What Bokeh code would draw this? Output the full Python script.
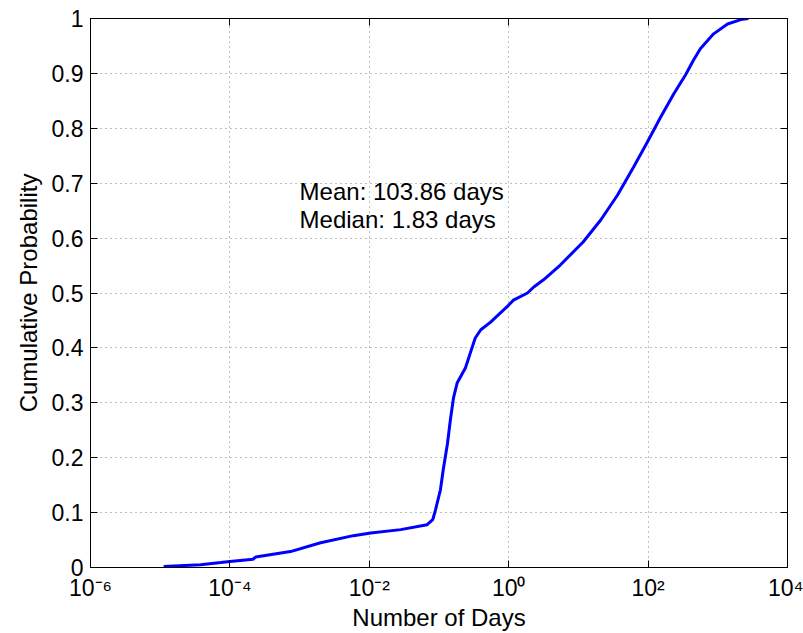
from bokeh.plotting import figure
from bokeh.models import FixedTicker, LinearAxis, LogAxis, Range1d
from bokeh.embed import file_html
from bokeh.resources import INLINE
from bokeh.core.properties import value

# ---- data ----
days = [1.12e-5, 3.8e-5, 7.4e-5, 1.0e-4, 2.14e-4, 2.34e-4, 7.4e-4, 2.0e-3, 5.9e-3,
        0.0105, 0.0282, 0.0676, 0.0813, 0.0891, 0.105, 0.115, 0.132, 0.146, 0.162, 0.182,
        0.24, 0.282, 0.331, 0.398, 0.55, 1.0, 1.17, 1.86, 2.29, 3.16, 5.5, 11.7,
        20.9, 36.3, 61.7, 97.7, 151, 234, 347, 447, 562, 871, 1380, 2140, 2750]
cum_prob = [0.002, 0.005, 0.009, 0.011, 0.015, 0.019, 0.029, 0.045, 0.058,
            0.063, 0.069, 0.078, 0.087, 0.105, 0.142, 0.178, 0.225, 0.27, 0.31, 0.336,
            0.364, 0.391, 0.418, 0.433, 0.447, 0.478, 0.487, 0.5, 0.511, 0.524, 0.551, 0.593,
            0.633, 0.678, 0.729, 0.775, 0.82, 0.863, 0.898, 0.924, 0.945, 0.972, 0.99, 0.998, 1.0]

x_ticks = [1e-6, 1e-4, 1e-2, 1.0, 1e2, 1e4]
x_tick_labels = ["10\u207b\u2076", "10\u207b\u2074", "10\u207b\u00b2", "10\u2070", "10\u00b2", "10\u2074"]
y_ticks = [0, 0.1, 0.2, 0.3, 0.4, 0.5, 0.6, 0.7, 0.8, 0.9, 1]
y_tick_labels = ["0", "0.1", "0.2", "0.3", "0.4", "0.5", "0.6", "0.7", "0.8", "0.9", "1"]

note_lines = ["Mean: 103.86 days", "Median: 1.83 days"]
note_x = [1e-3, 1e-3]
note_y = [0.684, 0.633]

FONT = "Liberation Sans"

p = figure(width=803, height=633, x_axis_type="log",
           x_range=Range1d(1e-6, 1e4), y_range=Range1d(0, 1),
           output_backend="svg", toolbar_location=None,
           min_border_left=90, min_border_right=16, min_border_top=18, min_border_bottom=65)
p.background_fill_color = "white"
p.border_fill_color = "white"
p.outline_line_color = "black"
p.outline_line_width = 1

# grid
p.xgrid.ticker = FixedTicker(ticks=x_ticks)
p.ygrid.ticker = FixedTicker(ticks=y_ticks)
for g in (p.xgrid, p.ygrid):
    g.grid_line_color = "black"
    g.grid_line_alpha = 0.5
    g.grid_line_dash = "1 4"
    g.grid_line_width = 1

def style_axis(ax, ticks, labels, show_labels=True):
    ax.ticker = FixedTicker(ticks=ticks)
    if show_labels:
        ax.major_label_overrides = {t: l for t, l in zip(ticks, labels)}
    else:
        ax.major_label_overrides = {t: "" for t in ticks}
    ax.major_tick_in = 7
    ax.major_tick_out = 0
    ax.minor_tick_line_color = None
    ax.axis_line_color = "black"
    ax.major_tick_line_color = "black"
    ax.major_label_text_font = FONT
    ax.major_label_text_font_size = "23px"
    ax.major_label_text_color = "black"
    ax.axis_label_text_font = FONT
    ax.axis_label_text_font_size = "24px"
    ax.axis_label_text_font_style = "normal"
    ax.axis_label_text_color = "black"

xa = p.xaxis[0]
style_axis(xa, x_ticks, x_tick_labels)
xa.axis_label = "Number of Days"
xa.major_label_standoff = 7
xa.axis_label_standoff = 0

ya = p.yaxis[0]
style_axis(ya, y_ticks, y_tick_labels)
ya.axis_label = "Cumulative Probability"
ya.major_label_standoff = 7
ya.axis_label_standoff = 7

top = LogAxis()
style_axis(top, x_ticks, x_tick_labels, show_labels=False)
top.major_label_text_font_size = "0px"
p.add_layout(top, "above")

right = LinearAxis()
style_axis(right, y_ticks, y_tick_labels, show_labels=False)
right.major_label_text_font_size = "0px"
p.add_layout(right, "right")

p.line(days, cum_prob, line_color="#0000ff", line_width=3)

p.text(x=note_x, y=note_y, text=note_lines, text_font=value(FONT),
       text_font_size="24px", text_color="black", text_baseline="alphabetic",
       text_align="left")

open("out.html", "w").write(file_html(p, INLINE))
